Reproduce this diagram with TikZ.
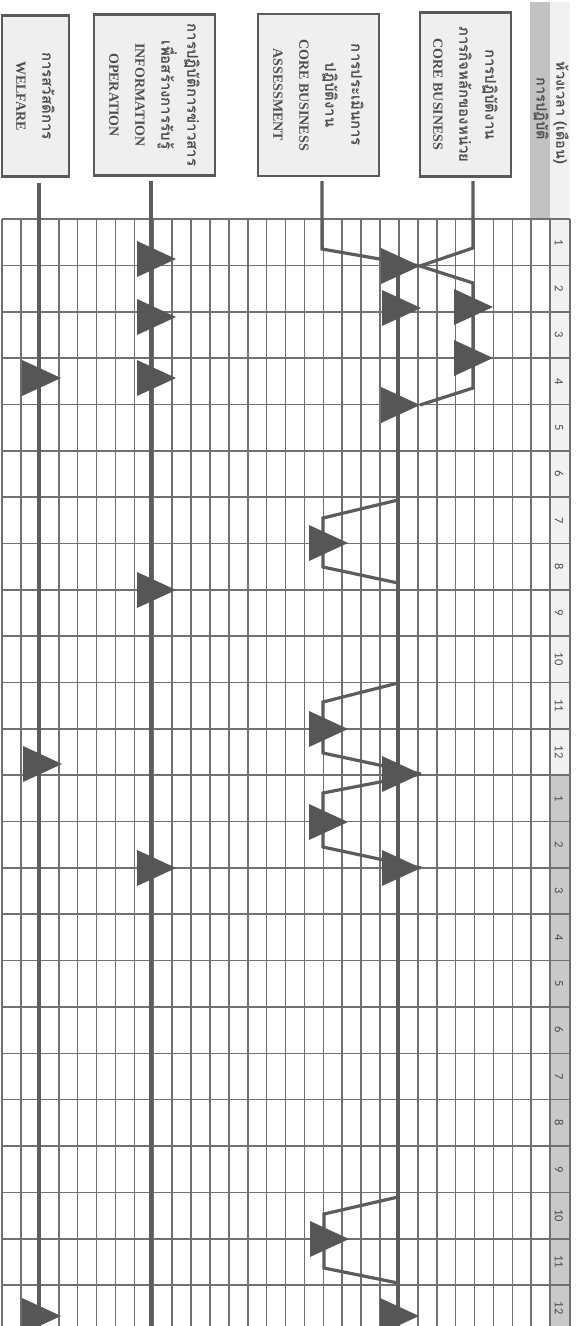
\documentclass[tikz,border=0pt]{standalone}
\usepackage{fontspec}
\setmainfont{Liberation Serif}
\newfontfamily\thaifont[Script=Thai]{Loma}
\newfontfamily\numfont{Carlito}
\usetikzlibrary{calc}
\definecolor{gridc}{HTML}{707070}
\definecolor{linec}{HTML}{5C5C5C}
\definecolor{tric}{HTML}{565656}
\definecolor{boxfill}{HTML}{EFEFEF}
\definecolor{boxdraw}{HTML}{5A5A5A}
\definecolor{txtc}{HTML}{4E4E4E}
\definecolor{hdrgray}{HTML}{C2C2C2}
\definecolor{hdrlight}{HTML}{F1F1F1}
\definecolor{yrtwo}{HTML}{C9C9C9}
\newcommand{\mtri}[1]{\fill[trifill] (#1) -- ++(-39,-18) -- ++(0,36) -- cycle;}
\newcommand{\tht}[1]{{\thaifont\fontsize{15}{26}\selectfont #1}}
\begin{document}
\begin{tikzpicture}[x=1pt,y=-1pt,
  box/.style={draw=boxdraw, line width=2.2pt, fill=boxfill, rotate=-90, align=center,
    text=txtc, inner sep=0pt, font=\bfseries\fontsize{14}{26}\selectfont},
  gridline/.style={draw=gridc, line width=1.6pt},
  flow/.style={draw=linec, line width=3.2pt},
  mainflow/.style={draw=linec, line width=3.8pt},
  trifill/.style={fill=tric},
  num/.style={rotate=-90, text=txtc, inner sep=0pt, font=\numfont\fontsize{12.5}{13}\selectfont},
  hdr/.style={rotate=-90, text=txtc, inner sep=0pt, font=\thaifont\bfseries\fontsize{14.5}{16}\selectfont}]
\useasboundingbox (0,0) rectangle (580,1326);
\clip (0,0) rectangle (580,1326);
\fill[white] (0,0) rectangle (580,1326);
% header bands
\fill[hdrgray] (530,2) rectangle (550,219);
\fill[hdrlight] (550,2) rectangle (570,219);
\node[hdr] (hA) at (561,113) {ห้วงเวลา (เดือน)};
\node[hdr] (hB) at (541,109) {การปฏิบัติ};
% month cells
\fill[hdrlight] (550,219) rectangle (570,775.2);
\fill[yrtwo] (550,775.2) rectangle (570,1331);
% grid
\foreach \k in {0,...,29} \draw[gridline] ({2+18.9*\k},219) -- ({2+18.9*\k},1330);
\draw[gridline] (570,219) -- (570,1330);
\foreach \m in {0,...,24} \draw[gridline] (2,{219+46.35*\m}) -- (570,{219+46.35*\m});
\foreach \i in {1,...,24} {
  \pgfmathtruncatemacro\lab{mod(\i-1,12)+1}
  \node[num] (n\i) at (559,{219+46.35*(\i-0.5)}) {\lab};
}
% boxes
\node[box, minimum width=164pt, minimum height=91pt] (core) at (465.5,94.5)
  {\tht{การปฏิบัติงาน}\\\tht{ภารกิจหลักของหน่วย}\\CORE BUSINESS};
\node[box, minimum width=162pt, minimum height=121pt] (assess) at (318.5,95)
  {\tht{การประเมินการ}\\\tht{ปฏิบัติงาน}\\CORE BUSINESS\\ASSESSMENT};
\node[box, minimum width=161pt, minimum height=121pt] (info) at (154.5,95)
  {\tht{การปฏิบัติการข่าวสาร}\\\tht{เพื่อสร้างการรับรู้}\\INFORMATION\\OPERATION};
\node[box, minimum width=161pt, minimum height=67pt] (welf) at (35.5,96)
  {\tht{การสวัสดิการ}\\WELFARE};
% coordinates
\coordinate (cS) at (473,181);
\coordinate (cK1) at (473,248);
\coordinate (cK2) at (473,283);
\coordinate (cK3) at (473,388);
\coordinate (aS) at (322,181);
\coordinate (aK) at (322,249);
\coordinate (tA) at (420,266);
\coordinate (tB) at (421,308);
\coordinate (tC) at (420,405);
\coordinate (tD) at (421,774);
\coordinate (tE) at (421,868);
\coordinate (tF) at (419,1316);
\coordinate (tc1) at (493,307);
\coordinate (tc2) at (493,358);
\coordinate (mS) at (398,266);
\coordinate (mE) at (398,1330);
\coordinate (d1a) at (398,500);
\coordinate (d1b) at (323,518);
\coordinate (d1c) at (323,567);
\coordinate (d1d) at (398,583);
\coordinate (td1) at (348,543);
\coordinate (d2a) at (398,683);
\coordinate (d2b) at (323,702);
\coordinate (d2c) at (323,753);
\coordinate (td2) at (348,729);
\coordinate (d3b) at (323,793);
\coordinate (d3c) at (323,847);
\coordinate (td3) at (348,822);
\coordinate (d4a) at (398,1197);
\coordinate (d4b) at (324,1214);
\coordinate (d4c) at (324,1268);
\coordinate (d4d) at (398,1283);
\coordinate (td4) at (349,1239);
\coordinate (iS) at (151,181);
\coordinate (iE) at (151,1330);
\coordinate (ti1) at (176,259);
\coordinate (ti2) at (176,317);
\coordinate (ti3) at (176,378);
\coordinate (ti4) at (176,590);
\coordinate (ti5) at (176,868);
\coordinate (wS) at (39,183);
\coordinate (wE) at (39,1330);
\coordinate (tw1) at (61,378);
\coordinate (tw2) at (62,764);
\coordinate (tw3) at (61,1316);
% flow lines
\draw[flow] (cS) -- (cK1) -- (tA);
\draw[flow] (tA) -- (cK2) -- (cK3) -- (tC);
\draw[flow] (aS) -- (aK) -- (tA);
\draw[mainflow] (mS) -- (mE);
\draw[flow] (d1a) -- (d1b) -- (d1c) -- (d1d);
\draw[flow] (d2a) -- (d2b) -- (d2c) -- (tD);
\draw[flow] (tD) -- (d3b) -- (d3c) -- (tE);
\draw[flow] (d4a) -- (d4b) -- (d4c) -- (d4d);
\draw[mainflow] (iS) -- (iE);
\draw[mainflow] (wS) -- (wE);
% milestones
\foreach \t in {tA,tB,tC,tD,tE,tF,tc1,tc2,td1,td2,td3,td4,ti1,ti2,ti3,ti4,ti5,tw1,tw2,tw3} {\mtri{\t}}
\end{tikzpicture}
\end{document}
